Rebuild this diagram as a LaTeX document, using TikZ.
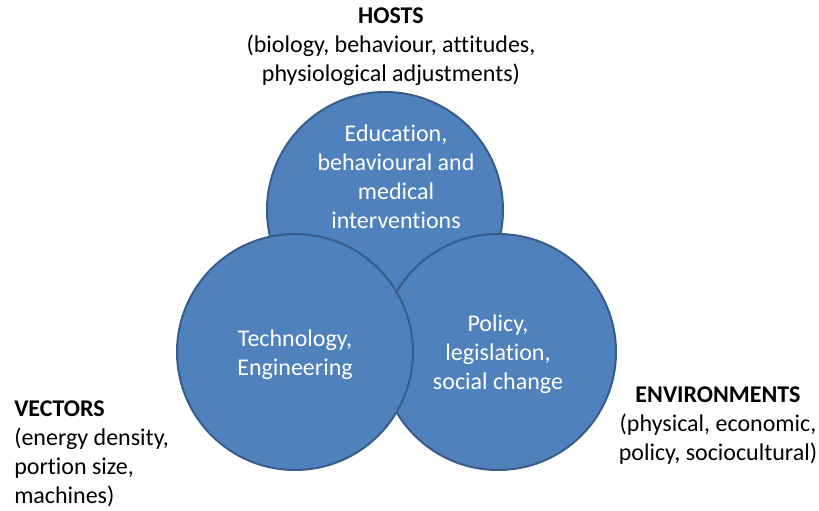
\documentclass[tikz,border=0pt]{standalone}
\usepackage{fontspec}
\setmainfont[Ligatures={NoCommon}]{Carlito}
\definecolor{ringfill}{HTML}{4F81BD}
\definecolor{ringdraw}{HTML}{385D8A}
\begin{document}
\begin{tikzpicture}[x=0.75pt, y=-0.75pt,
    ring/.style={draw=ringdraw, line width=1.5pt, fill=ringfill, circle, minimum size=177pt, inner sep=0pt, text=white, align=center, font=\fontsize{18}{21.75}\selectfont},
    label/.style={inner sep=0pt, font=\fontsize{18}{21.75}\selectfont}]
    \useasboundingbox (0,0) rectangle (819,511);

    % three overlapping rings, top one first, left one last
    \node[ring] (host) at (385, 210) {};
    \node[ring] (env) at (498, 352) {};
    \node[ring] (vec) at (295, 352) {};

    \node[label, text=white, align=center] (hosttxt) at (396, 177) {Education,\\behavioural and\\medical\\interventions};
    \node[label, text=white, align=center] (envtxt) at (498, 354) {Policy,\\legislation,\\social change};
    \node[label, text=white, align=center] (vectxt) at (295, 355) {Technology,\\Engineering};

    \node[label, align=center] (hosts) at (391, 47) {\textbf{HOSTS}\\(biology, behaviour, attitudes,\\physiological adjustments)};
    \node[label, align=left, anchor=west] (vectors) at (14, 454) {\textbf{VECTORS}\\(energy density,\\portion size,\\machines)};
    \node[label, align=center] (envs) at (718, 426) {\textbf{ENVIRONMENTS}\\(physical, economic,\\policy, sociocultural)};
\end{tikzpicture}
\end{document}
